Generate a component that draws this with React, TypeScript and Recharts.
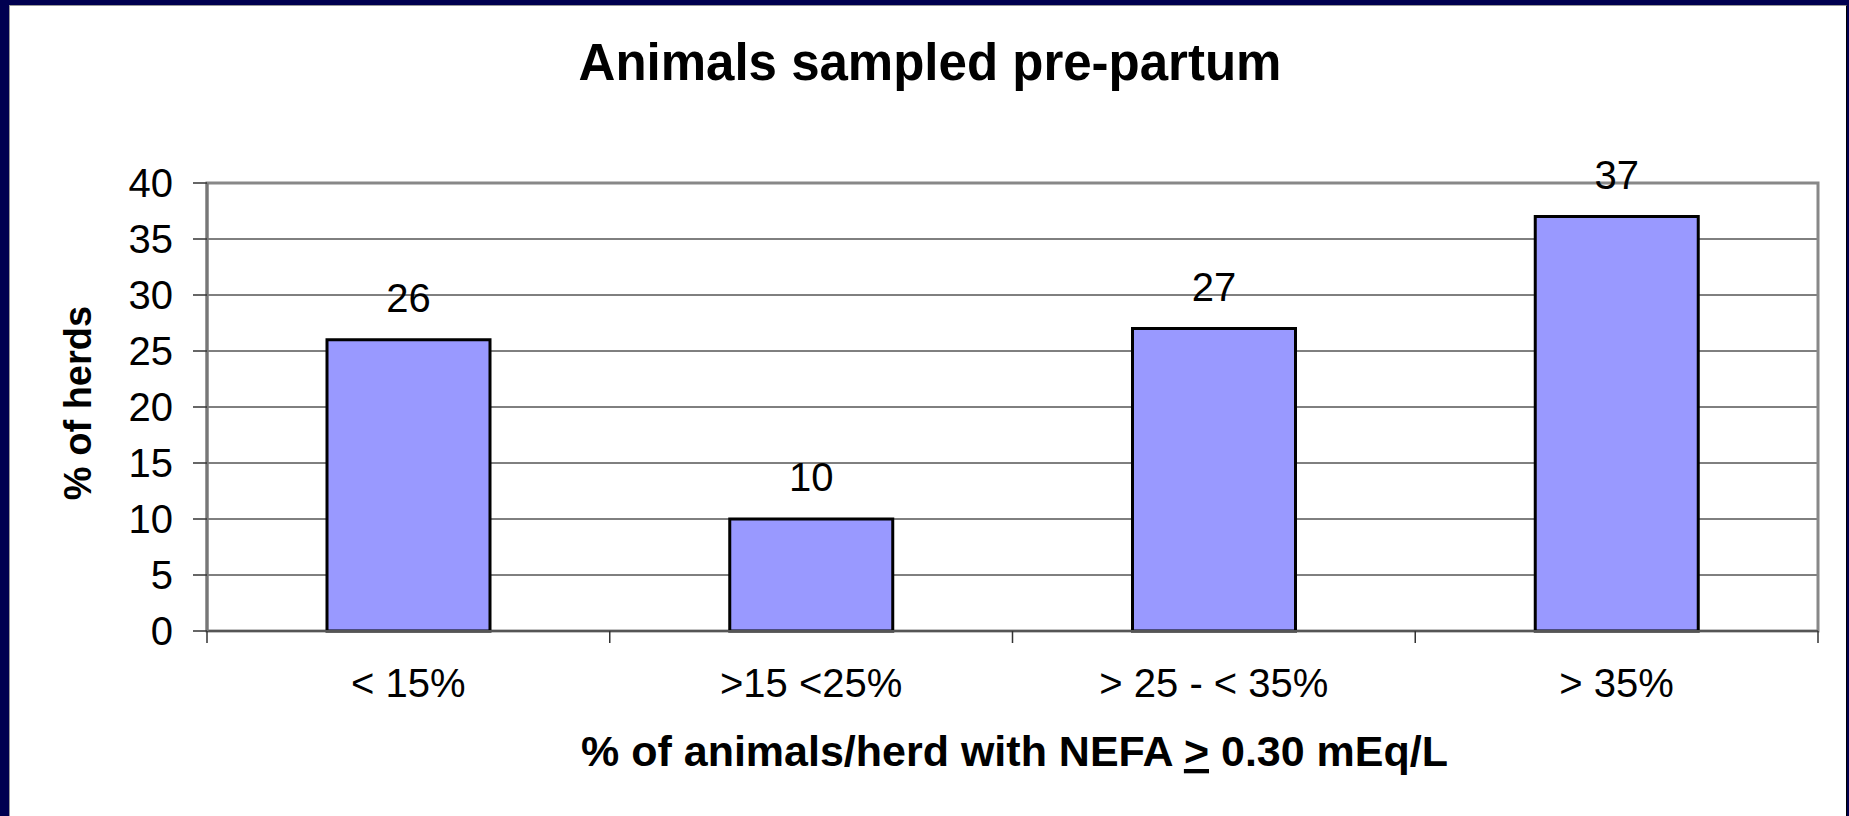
import React from 'react';
import { BarChart, Bar, XAxis, YAxis, CartesianGrid, LabelList, ReferenceArea } from 'recharts';

const categories = ['< 15%', '>15 <25%', '> 25 - < 35%', '> 35%'];
const herdPercent = [26, 10, 27, 37];
const yTicks = [0, 5, 10, 15, 20, 25, 30, 35, 40];
// slot ticks: whole numbers are the category edges, halves are the category labels
const slotTicks = [0, 0.5, 1, 1.5, 2, 2.5, 3, 3.5, 4];

const FONT = '"Liberation Sans", Arial, sans-serif';

const data = categories.map((c, i) => ({ category: c, slot: i + 0.5, value: herdPercent[i] }));

const SlotTick = (props: any) => {
    const { x, y, payload } = props;
    const v = payload.value as number;
    if (Number.isInteger(v)) {
        return <line x1={x} x2={x} y1={y} y2={y + 12} stroke="#333" strokeWidth={1.5} />;
    }
    return (
        <text x={x} y={y + 66} textAnchor="middle" fontSize={40} fontFamily={FONT} fill="#000">
            {categories[Math.floor(v)]}
        </text>
    );
};

const XTitle = (props: any) => {
    const { viewBox } = props;
    const cx = viewBox.x + viewBox.width / 2 + 2;
    return (
        <text x={cx} y={766} textAnchor="middle" fontSize={43} fontWeight="bold" fontFamily={FONT} fill="#000">
            <tspan>% of animals/herd with NEFA </tspan>
            <tspan style={{ textDecoration: 'underline' }}>&gt;</tspan>
            <tspan> 0.30 mEq/L</tspan>
        </text>
    );
};

const YTitle = (props: any) => {
    const { viewBox } = props;
    const cx = viewBox.x + 78;
    const cy = viewBox.y + viewBox.height / 2 - 4;
    return (
        <text
            x={cx}
            y={cy}
            transform={`rotate(-90, ${cx}, ${cy})`}
            textAnchor="middle"
            dominantBaseline="central"
            fontSize={38}
            fontWeight="bold"
            fontFamily={FONT}
            fill="#000"
        >
            % of herds
        </text>
    );
};

export default function App() {
    return (
        <div style={{ position: 'fixed', left: 0, top: 0, width: 1849, height: 816, background: '#000050', overflow: 'hidden' }}>
            <div
                style={{
                    position: 'absolute',
                    left: 9,
                    top: 5,
                    width: 1836,
                    height: 811,
                    background: '#fff',
                    borderLeft: '1px solid #999',
                    borderTop: '1px solid #999',
                    borderRight: '1px solid #000',
                }}
            />
            <svg style={{ position: 'absolute', left: 0, top: 0 }} width={1849} height={120}>
                <text x={930} y={80} textAnchor="middle" fontSize={51} fontWeight="bold" fontFamily={FONT} fill="#000">
                    Animals sampled pre-partum
                </text>
            </svg>
            <div style={{ position: 'absolute', left: 0, top: 0 }}>
                <BarChart width={1849} height={816} data={data} margin={{ top: 183, right: 31, bottom: 0, left: 0 }}>
                    <CartesianGrid xAxisId="cat" vertical={false} stroke="#000" strokeWidth={1} />
                    <XAxis xAxisId="cat" dataKey="category" hide height={0} />
                    <XAxis
                        xAxisId="slots"
                        dataKey="slot"
                        type="number"
                        domain={[0, 4]}
                        allowDataOverflow
                        ticks={slotTicks}
                        interval={0}
                        tick={<SlotTick />}
                        tickLine={false}
                        tickSize={0}
                        tickMargin={0}
                        axisLine={{ stroke: '#555', strokeWidth: 2 }}
                        height={185}
                        label={<XTitle />}
                    />
                    <YAxis
                        domain={[0, 40]}
                        ticks={yTicks}
                        interval={0}
                        width={207}
                        tickSize={14}
                        tickMargin={20}
                        tick={{ fontSize: 40, fontFamily: FONT, fill: '#000' }}
                        tickLine={{ stroke: '#333', strokeWidth: 1.5 }}
                        axisLine={{ stroke: '#777', strokeWidth: 3 }}
                        label={<YTitle />}
                    />
                    <ReferenceArea
                        xAxisId="cat"
                        y1={0}
                        y2={40}
                        fill="none"
                        stroke="#888"
                        strokeWidth={3}
                        ifOverflow="visible"
                    />
                    <Bar
                        xAxisId="cat"
                        dataKey="value"
                        barSize={163}
                        fill="#9999FF"
                        stroke="#000"
                        strokeWidth={3}
                        isAnimationActive={false}
                    >
                        <LabelList dataKey="value" position="top" offset={28} fontSize={40} fontFamily={FONT} fill="#000" />
                    </Bar>
                </BarChart>
            </div>
        </div>
    );
}
